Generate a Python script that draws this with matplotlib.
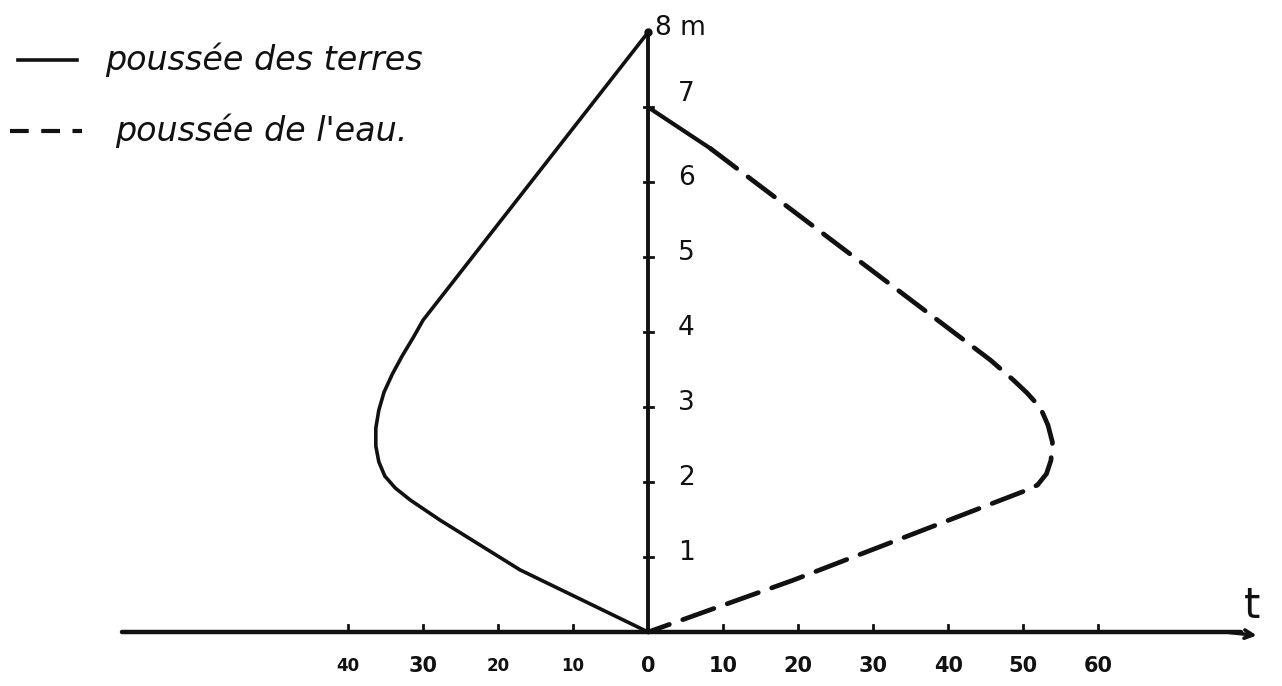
import matplotlib.pyplot as plt
import numpy as np

# poussee des terres (left side, t plotted negative) : t, hauteur m
terres_t = [0, -30.0, -31.3, -32.8, -34.1, -35.2, -35.9, -36.3, -36.3, -35.9,
            -35.1, -33.7, -31.7, -27.7, -17.1, 0]
terres_m = [8, 4.16, 3.93, 3.68, 3.44, 3.2, 2.96, 2.72, 2.48, 2.27,
            2.08, 1.92, 1.76, 1.49, 0.83, 0]

# poussee de l'eau (right side)
eau_t = [0, 8.3, 45.6, 48.7, 50.5, 52.3, 53.3, 53.9, 53.7, 53.1, 51.9,
         49.9, 46.0, 19.3, 0]
eau_m = [7, 6.45, 3.63, 3.36, 3.19, 2.99, 2.76, 2.53, 2.29, 2.11, 1.96,
         1.87, 1.72, 0.69, 0]

t_ticks = [-40, -30, -20, -10, 0, 10, 20, 30, 40, 50, 60]
t_labels = ['40', '30', '20', '10', '0', '10', '20', '30', '40', '50', '60']
m_ticks = [1, 2, 3, 4, 5, 6, 7]

ink = '#111111'

fig = plt.figure(figsize=(12.82, 6.86), dpi=100)
ax = fig.add_axes([0, 0, 1, 1])
ax.set_xlim(-86.4, 84.5)
ax.set_ylim(-0.72, 8.43)
ax.axis('off')

# axes drawn by hand
ax.plot([-70.1, 79], [0, 0], color=ink, lw=3.2, solid_capstyle='round')
ax.annotate('', xy=(81.5, -0.05), xytext=(77, 0),
            arrowprops=dict(arrowstyle='->,head_length=0.6,head_width=0.3', color=ink, lw=2.6))
ax.plot([0, 0], [0, 8], color=ink, lw=2.8)
ax.plot([0], [8], marker='o', ms=5, color=ink)

for t in t_ticks:
    if t != 0:
        ax.plot([t, t], [0, 0.1], color=ink, lw=2)
for t, lab in zip(t_ticks, t_labels):
    size = 12 if t in (-10, -20, -40) else 15
    ax.text(t, -0.45, lab, ha='center', va='center', fontsize=size,
            fontweight='bold', color=ink)

for m in m_ticks:
    ax.plot([-0.6, 0.6], [m, m], color=ink, lw=2)
for m in m_ticks:
    dy = 0.18 if m == 7 else 0.05
    ax.text(4.0, m + dy, str(m), ha='left', va='center', fontsize=19, color=ink)
ax.text(0.9, 8.05, '8 m', ha='left', va='center', fontsize=19, color=ink)
ax.text(80.5, 0.35, 't', ha='center', va='center', fontsize=30, color=ink)

# pressure diagrams
ax.plot(terres_t, terres_m, color=ink, lw=2.6, solid_joinstyle='round')
ax.plot(eau_t[:2], eau_m[:2], color=ink, lw=3, solid_capstyle='round')
ax.plot(eau_t[1:], eau_m[1:], color=ink, lw=3.4, dashes=(7, 3),
        dash_capstyle='round')

# legend written in the upper left corner
fig.add_artist(plt.Line2D([18 / 1282, 77 / 1282], [1 - 60 / 686] * 2,
                          color=ink, lw=2.6))
fig.add_artist(plt.Line2D([10 / 1282, 82 / 1282], [1 - 131 / 686] * 2,
                          color=ink, lw=3, dashes=(4.5, 3)))
fig.text(105 / 1282, 1 - 60 / 686, 'poussée des terres', fontsize=24,
         style='italic', ha='left', va='center', color=ink)
fig.text(115 / 1282, 1 - 131 / 686, "poussée de l'eau.", fontsize=24,
         style='italic', ha='left', va='center', color=ink)

fig.savefig('out.png', dpi=100, facecolor='white')
